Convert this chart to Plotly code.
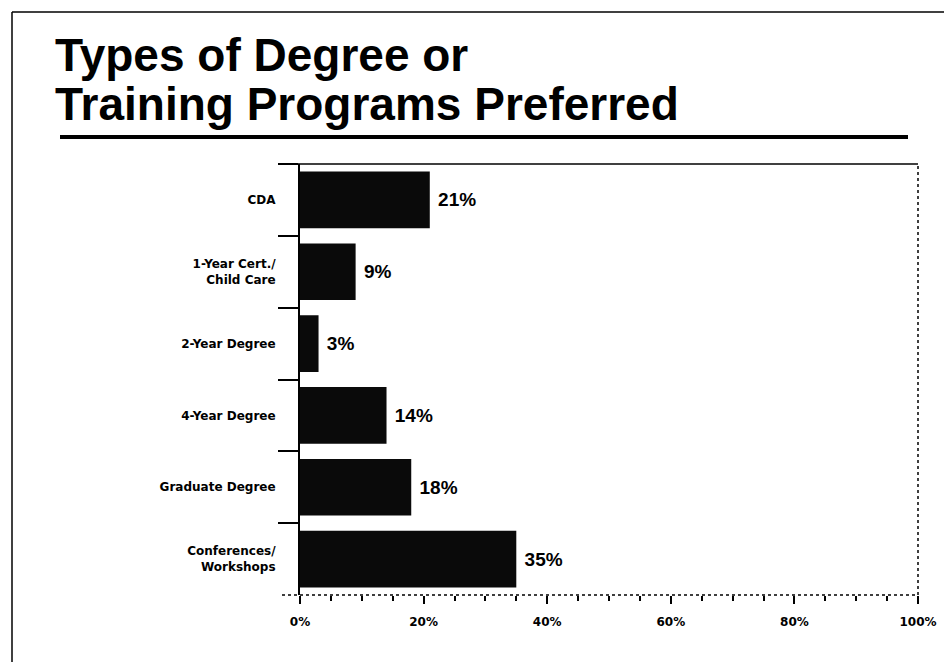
import plotly.graph_objects as go

# data (top to bottom)
programs = [
    "CDA",
    "1-Year Cert./<br>Child Care",
    "2-Year Degree",
    "4-Year Degree",
    "Graduate Degree",
    "Conferences/<br>Workshops",
]
pct = [21, 9, 3, 14, 18, 35]
x_ticks = [0, 20, 40, 60, 80, 100]
x_labels = ["0%", "20%", "40%", "60%", "80%", "100%"]

# the page has an 8px body margin, so the figure is laid out in
# reference-pixel coordinates shifted by OFF
OFF = 8
W, H = 944, 654
L, R, T, B = 300 - OFF, 34, 164 - OFF, 67
PW, PH = W - L - R, H - T - B


def px_x(px):
    return (px - OFF - L) / PW


def px_y(py):
    return (H - B - (py - OFF)) / PH


fig = go.Figure(
    go.Bar(
        x=pct,
        y=programs,
        orientation="h",
        marker=dict(color="#0a0a0a", line=dict(width=0)),
        texttemplate=" %{x}%",
        textposition="outside",
        textfont=dict(family="Liberation Sans", size=19, color="black", weight="bold"),
        cliponaxis=False,
    )
)

shapes = [
    # outer frame of the slide
    dict(type="line", xref="paper", yref="paper", x0=px_x(12), x1=px_x(970),
         y0=px_y(12), y1=px_y(12), line=dict(color="black", width=1.5)),
    dict(type="line", xref="paper", yref="paper", x0=px_x(12), x1=px_x(12),
         y0=px_y(12), y1=px_y(680), line=dict(color="black", width=1.5)),
    # title underline
    dict(type="line", xref="paper", yref="paper", x0=px_x(60), x1=px_x(908),
         y0=px_y(137), y1=px_y(137), line=dict(color="black", width=4)),
    # plot box: top, right (dotted), bottom (dotted)
    dict(type="line", xref="paper", yref="paper", x0=px_x(279), x1=1,
         y0=1, y1=1, line=dict(color="black", width=1.5)),
    dict(type="line", xref="paper", yref="paper", x0=1, x1=1,
         y0=0, y1=1, line=dict(color="black", width=1.5, dash="dot")),
    dict(type="line", xref="paper", yref="paper", x0=px_x(282), x1=1,
         y0=0, y1=0, line=dict(color="black", width=1.5, dash="dot")),
]

title_font = dict(family="Liberation Sans", size=46, color="black", weight="bold")
annotations = [
    dict(text="Types of Degree or", xref="paper", yref="paper", x=px_x(53), y=px_y(55),
         xanchor="left", yanchor="middle", showarrow=False, font=title_font),
    dict(text="Training Programs Preferred", xref="paper", yref="paper", x=px_x(53),
         y=px_y(104), xanchor="left", yanchor="middle", showarrow=False, font=title_font),
]

fig.update_layout(
    width=W,
    height=H,
    margin=dict(l=L, r=R, t=T, b=B),
    paper_bgcolor="white",
    plot_bgcolor="white",
    showlegend=False,
    bargap=0.21,
    shapes=shapes,
    annotations=annotations,
    xaxis=dict(
        range=[0, 100],
        tickvals=x_ticks,
        ticktext=x_labels,
        ticks="outside",
        ticklen=8,
        tickwidth=1.5,
        tickcolor="black",
        ticklabelstandoff=8,
        minor=dict(dtick=5, ticks="outside", ticklen=5, tickcolor="black"),
        showgrid=False,
        zeroline=False,
        showline=False,
        tickfont=dict(family="DejaVu Sans", size=12, color="black", weight="bold"),
    ),
    yaxis=dict(
        autorange="reversed",
        showline=True,
        linecolor="black",
        linewidth=2,
        ticks="outside",
        tickson="boundaries",
        ticklen=20,
        tickwidth=1.5,
        tickcolor="black",
        ticklabelstandoff=20,
        showgrid=False,
        zeroline=False,
        tickfont=dict(family="DejaVu Sans", size=12, color="black", weight="bold"),
    ),
)

fig.write_html("out.html")
